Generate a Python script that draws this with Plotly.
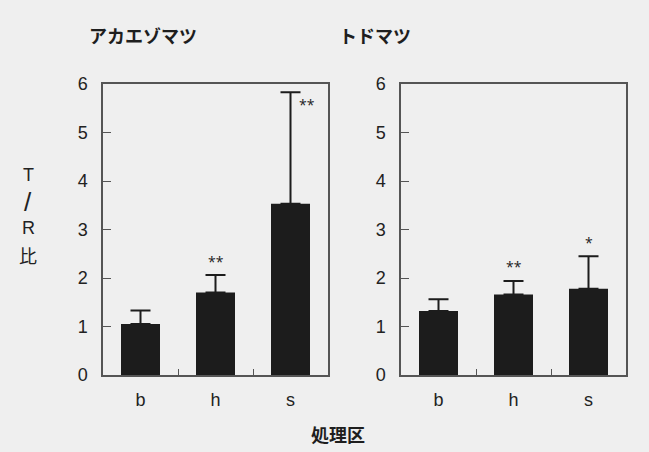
import plotly.graph_objects as go

categories = ["b", "h", "s"]
akaezo_values = [1.05, 1.70, 3.53]
akaezo_errors = [0.28, 0.36, 2.30]
akaezo_marks = ["", "**", "**"]
todo_values = [1.32, 1.66, 1.78]
todo_errors = [0.24, 0.28, 0.67]
todo_marks = ["", "**", "*"]
panel_titles = ["アカエゾマツ", "トドマツ"]
y_title_chars = ["T", "/", "R", "比"]
y_ticks = [0, 1, 2, 3, 4, 5, 6]

W, H = 649, 452
BG = "#efefef"
NUM_FONT = dict(family="Liberation Sans, Arial, sans-serif", size=18, color="#222")
JP_FONT = dict(family="Noto Sans CJK JP", size=18, color="#1e1e1e", weight="bold")

fig = go.Figure()
for i, (vals, errs) in enumerate([(akaezo_values, akaezo_errors), (todo_values, todo_errors)]):
    fig.add_trace(go.Bar(
        x=categories, y=vals,
        xaxis="x" if i == 0 else "x2", yaxis="y" if i == 0 else "y2",
        marker=dict(color="#1c1c1c", line=dict(width=0)),
        width=0.52,
        error_y=dict(type="data", array=errs, arrayminus=[0]*3, symmetric=False,
                     color="#1c1c1c", thickness=2, width=10),
        showlegend=False, hoverinfo="skip",
    ))

axis_common = dict(showline=True, linecolor="#555", linewidth=1.5, mirror=True,
                   showgrid=False, zeroline=False, tickfont=NUM_FONT, automargin=False)
ydom = [(H - 375) / H, (H - 84) / H]
fig.update_layout(
    width=W, height=H, margin=dict(l=0, r=0, t=0, b=0, pad=0), autosize=False,
    paper_bgcolor=BG, plot_bgcolor=BG, bargap=0.3,
    xaxis=dict(domain=[103 / W, 328 / W], type="category", tickson="boundaries",
               ticks="inside", ticklen=6, tickcolor="#555", ticklabelstandoff=8, **axis_common),
    xaxis2=dict(domain=[401 / W, 626 / W], type="category", tickson="boundaries",
                ticks="inside", ticklen=6, tickcolor="#555", ticklabelstandoff=8, anchor="y2", **axis_common),
    yaxis=dict(domain=ydom, range=[0, 6], tickvals=y_ticks, ticks="inside", ticklen=8,
               tickcolor="#555", ticklabelstandoff=10, **axis_common),
    yaxis2=dict(domain=ydom, range=[0, 6], tickvals=y_ticks, ticks="inside", ticklen=8,
                tickcolor="#555", ticklabelstandoff=10, anchor="x2", **axis_common),
)

# significance marks
for vals, errs, marks, xr, yr in [(akaezo_values, akaezo_errors, akaezo_marks, "x", "y"),
                                  (todo_values, todo_errors, todo_marks, "x2", "y2")]:
    for c, v, e, m in zip(categories, vals, errs, marks):
        if not m:
            continue
        if v + e > 5.5:
            fig.add_annotation(x=c, y=v + e, xref=xr, yref=yr, text=m, showarrow=False,
                               xshift=16, yshift=-12, font=dict(size=14, color="#222"))
        else:
            fig.add_annotation(x=c, y=v + e, xref=xr, yref=yr, text=m, showarrow=False,
                               yshift=14, font=dict(size=14, color="#222"))


def paper_text(x_px, y_px, text, font):
    fig.add_annotation(x=x_px / W, y=1 - y_px / H, xref="paper", yref="paper", text=text,
                       showarrow=False, xanchor="center", yanchor="middle", font=font)


paper_text(143, 35, panel_titles[0], JP_FONT)
paper_text(375, 35, panel_titles[1], JP_FONT)
y_title_pos = [175, 202, 228, 255]
y_title_sizes = [18, 26, 18, 18]
for ch, yp, sz in zip(y_title_chars, y_title_pos, y_title_sizes):
    fam = "Noto Sans CJK JP" if ch == "比" else "Liberation Sans, Arial, sans-serif"
    paper_text(28, yp, ch, dict(family=fam, size=sz, color="#222"))
paper_text(338, 434, "処理区", JP_FONT)

fig.write_html(
    "out.html",
    config={"responsive": False, "displayModeBar": False},
    post_script="document.documentElement.style.margin='0';document.body.style.margin='0';"
                "document.documentElement.style.overflow='hidden';document.body.style.overflow='hidden';"
                "var gd=document.getElementById('{plot_id}');"
                "gd.style.position='fixed';gd.style.left='0px';gd.style.top='0px';",
)
